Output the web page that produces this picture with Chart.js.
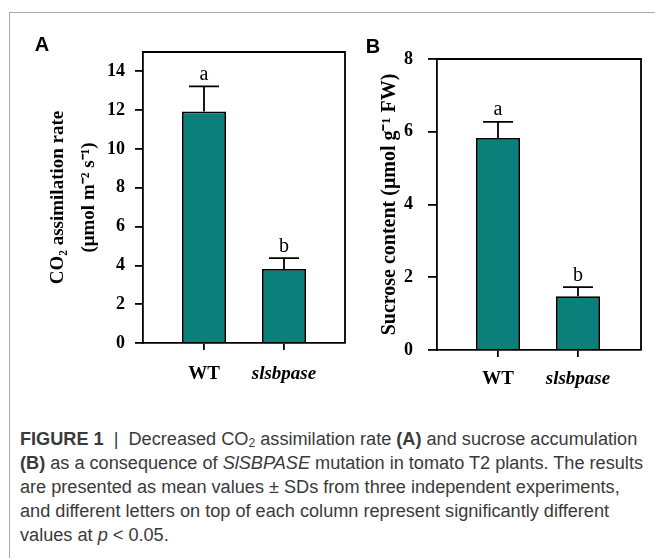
<!DOCTYPE html>
<html>
<head>
<meta charset="utf-8">
<script src="https://cdn.jsdelivr.net/npm/chart.js@4"></script>
<style>
body{margin:0;background:#fff;}
#fig{position:relative;width:655px;height:558px;overflow:hidden;background:#fff;}
#frame{position:absolute;left:9px;top:12px;width:700px;height:600px;border-left:1.5px solid #aaa;border-top:1.5px solid #aaa;}
.panel{position:absolute;top:0;}
#caption{position:absolute;left:20px;top:0;color:#3a3a3a;font-family:"Liberation Sans",Arial,sans-serif;font-size:18px;}
.line{position:absolute;left:0;white-space:nowrap;line-height:18px;transform-origin:0 0;}
.line sub{font-size:12px;line-height:0;vertical-align:-2px;}
</style>
</head>
<body>
<div id="fig">
  <div id="frame"></div>
  <canvas id="chartA" class="panel" style="left:0" width="355" height="400"></canvas>
  <canvas id="chartB" class="panel" style="left:340px" width="315" height="400"></canvas>
  <div id="caption">
    <div class="line" style="top:430px"><b>FIGURE 1</b> &nbsp;| &nbsp;Decreased CO<sub>2</sub> assimilation rate <b>(A)</b> and sucrose accumulation</div>
    <div class="line" id="ref" style="top:454px"><b>(B)</b> as a consequence of <i>SlSBPASE</i> mutation in tomato T2 plants. The results</div>
    <div class="line" style="top:478px">are presented as mean values ± SDs from three independent experiments,</div>
    <div class="line" style="top:502px">and different letters on top of each column represent significantly different</div>
    <div class="line" style="top:526px">values at <i>p</i> &lt; 0.05.</div>
  </div>
</div>
<script>
// values
const categories = ['WT', 'slsbpase'];
const letters = ['a', 'b'];
const co2Mean = [11.93, 3.82];
const co2Sd = [1.30, 0.55];
const sucroseMean = [5.83, 1.48];
const sucroseSd = [0.44, 0.25];
const co2Ticks = [0, 2, 4, 6, 8, 10, 12, 14];
const sucroseTicks = [0, 2, 4, 6, 8];

const serif = '"Liberation Serif", "Times New Roman", serif';

// error bars, significance letters, box frame and panel letter
const errorBars = {
    id: 'errorBars',
    afterDatasetsDraw(chart, args, opts) {
        const ctx = chart.ctx;
        const y = chart.scales.y;
        const meta = chart.getDatasetMeta(0);
        ctx.save();
        ctx.strokeStyle = '#000';
        ctx.fillStyle = '#000';
        ctx.lineWidth = 1.8;
        meta.data.forEach((bar, i) => {
            const top = y.getPixelForValue(opts.mean[i] + opts.sd[i]);
            ctx.beginPath();
            ctx.moveTo(bar.x, bar.y);
            ctx.lineTo(bar.x, top);
            ctx.moveTo(bar.x - 15, top);
            ctx.lineTo(bar.x + 15, top);
            ctx.stroke();
            ctx.font = '20px ' + serif;
            ctx.textAlign = 'center';
            ctx.textBaseline = 'alphabetic';
            ctx.fillText(opts.letters[i], bar.x, top - 6.5);
        });
        const a = chart.chartArea;
        ctx.beginPath();
        ctx.moveTo(a.left, a.top);
        ctx.lineTo(a.right, a.top);
        ctx.lineTo(a.right, a.bottom);
        ctx.stroke();
        ctx.font = 'bold 20px "Liberation Sans", Arial, sans-serif';
        ctx.textAlign = 'center';
        ctx.textBaseline = 'middle';
        ctx.fillText(opts.panel, opts.panelX, opts.panelY);
        ctx.restore();
    }
};

function makePanel(id, p) {
    return new Chart(document.getElementById(id), {
        type: 'bar',
        data: {
            datasets: [{
                data: p.mean.map((v, i) => ({x: i, y: v})),
                backgroundColor: '#0b7f79',
                borderColor: '#000',
                borderWidth: 1.8,
                categoryPercentage: 0.55,
                barPercentage: 1
            }]
        },
        options: {
            responsive: false,
            animation: false,
            events: [],
            layout: {padding: p.padding},
            plugins: {
                legend: {display: false},
                tooltip: {enabled: false},
                errorBars: {mean: p.mean, sd: p.sd, letters: letters, panel: p.panel, panelX: p.panelX, panelY: p.panelY}
            },
            scales: {
                x: {
                    type: 'linear',
                    offset: false,
                    min: p.xMin,
                    max: p.xMax,
                    afterBuildTicks: s => { s.ticks = categories.map((c, i) => ({value: i})); },
                    afterFit: s => { s.height = 50; },
                    grid: {offset: false, drawOnChartArea: false, tickLength: 7, color: '#000', lineWidth: 1.8},
                    border: {color: '#000', width: 1.8},
                    ticks: {
                        padding: p.xPad,
                        color: '#000',
                        font: c => ({family: serif, size: 19, weight: 'bold', style: c.index === 1 ? 'italic' : 'normal'}),
                        callback: (v, i) => categories[i]
                    }
                },
                y: {
                    min: 0,
                    max: p.ticks[p.ticks.length - 1] + p.extra,
                    afterBuildTicks: s => { s.ticks = p.ticks.map(v => ({value: v})); },
                    afterFit: s => { s.width = p.yWidth; },
                    grid: {drawOnChartArea: false, tickLength: p.tickLength, color: '#000', lineWidth: 1.8},
                    border: {color: '#000', width: 1.8},
                    ticks: {padding: p.tickPad, color: '#000', font: {family: serif, size: 18, weight: 'bold'}},
                    title: {
                        display: true,
                        text: p.title,
                        color: '#000',
                        font: {family: serif, size: p.titleSize, weight: 'bold', lineHeight: p.titleLH},
                        padding: {top: p.titlePad, bottom: 0}
                    }
                }
            }
        },
        plugins: [errorBars]
    });
}

makePanel('chartA', {
    mean: co2Mean, sd: co2Sd, ticks: co2Ticks, extra: 1,
    padding: {left: 0, top: 52, right: 10, bottom: 7},
    yWidth: 143, xMin: -0.7625, xMax: 1.7625,
    tickLength: 8, tickPad: 10, xPad: 13,
    title: ['CO\u2082 assimilation rate', '(\u03bcmol m\u207b\u00b2 s\u207b\u00b9)'],
    titleSize: 19, titleLH: 1.63, titlePad: 42.5,
    panel: 'A', panelX: 42, panelY: 45
});

makePanel('chartB', {
    mean: sucroseMean, sd: sucroseSd, ticks: sucroseTicks, extra: 0,
    padding: {left: 0, top: 59, right: 14, bottom: 0},
    yWidth: 97, xMin: -0.7625, xMax: 1.7875,
    tickLength: 9, tickPad: 15, xPad: 11,
    title: 'Sucrose content (\u03bcmol g\u207b\u00b9 FW)',
    titleSize: 20, titleLH: 1.2, titlePad: 38,
    panel: 'B', panelX: 33, panelY: 47
});

// squeeze the caption lines to the width of the figure text block
const k = 623 / document.getElementById('ref').getBoundingClientRect().width;
document.querySelectorAll('.line').forEach(l => { l.style.transform = 'scaleX(' + k + ')'; });
</script>
</body>
</html>
